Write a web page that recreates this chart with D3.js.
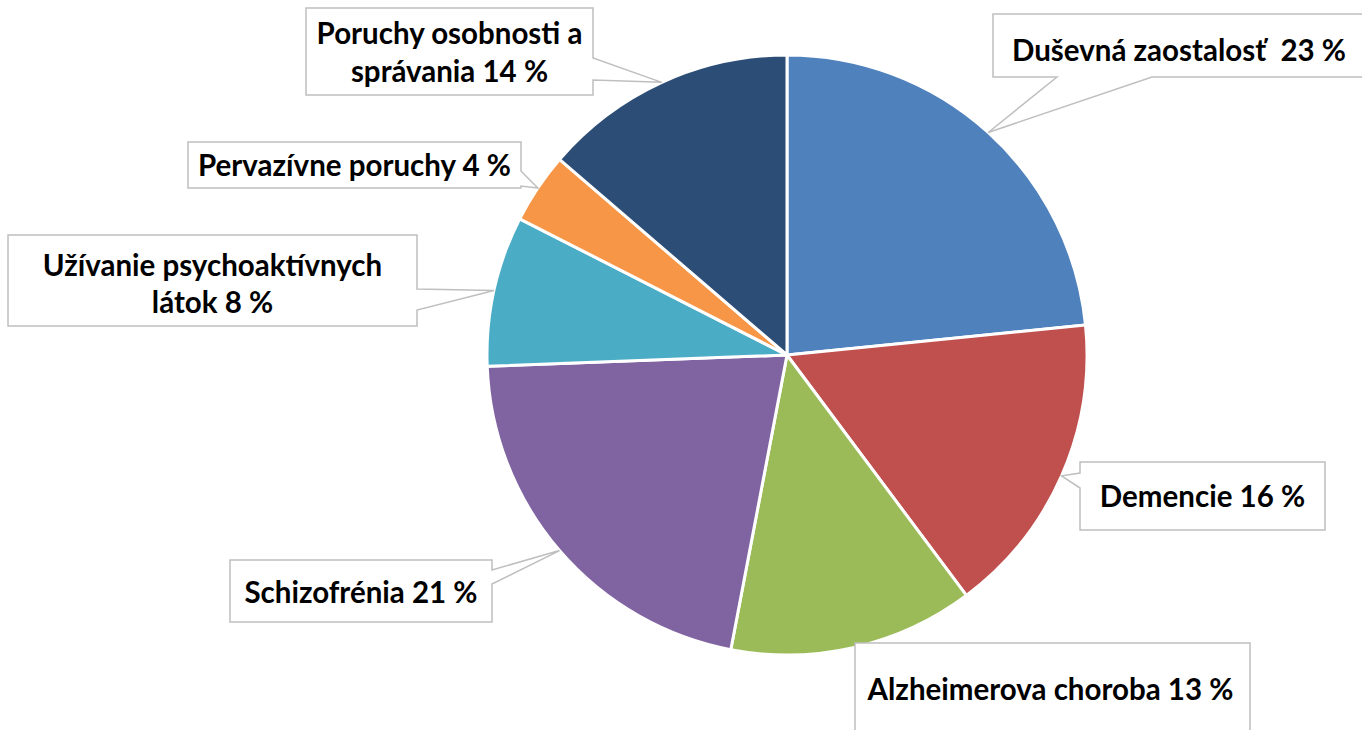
<!DOCTYPE html>
<html>
<head>
<meta charset="utf-8">
<script src="https://cdn.jsdelivr.net/npm/d3@7"></script>
<style>
  body { margin: 0; background: #fff; }
  svg text { font-family: Lato, "Open Sans", sans-serif; font-weight: bold; fill: #000; }
</style>
</head>
<body>
<svg width="1362" height="730"></svg>
<script>
// data, clockwise from 12 o'clock
var categories = ["Duševná zaostalosť ", "Demencie", "Alzheimerova choroba", "Schizofrénia",
                  "Užívanie psychoaktívnych látok", "Pervazívne poruchy", "Poruchy osobnosti a správania"];
var values = [23.4, 16.4, 13.2, 21.4, 8.1, 3.8, 13.7];
var colors = ["#4F81BD", "#C0504D", "#9BBB59", "#8064A2", "#4BACC6", "#F79646", "#2C4D75"];

// label text lines (the % is appended from the value)
var labelLines = [
  ["Duševná zaostalosť  "],
  ["Demencie "],
  ["Alzheimerova choroba "],
  ["Schizofrénia "],
  ["Užívanie psychoaktívnych", "látok "],
  ["Pervazívne poruchy "],
  ["Poruchy osobnosti a", "správania "]
];

// callout boxes: x, y, w, h, side of pointer, pointer base (two coords along that side), text baselines
var boxes = [
  {x: 993, y: 14, w: 372, h: 63, side: "bottom", p: [1057, 1152], base: [61], dx: 0},
  {x: 1080, y: 462, w: 245, h: 68, side: "left", p: [473, 488], base: [507], dx: 0},
  {x: 855, y: 643, w: 395, h: 95, side: null, p: [], base: [700], dx: -2},
  {x: 230, y: 560, w: 262, h: 62, side: "right", p: [570, 584], base: [603], dx: 0},
  {x: 8, y: 235, w: 409, h: 91, side: "right", p: [289, 310], base: [276, 313], dx: 0},
  {x: 188, y: 142, w: 333, h: 46, side: "right", p: [171, 186], base: [176], dx: 0},
  {x: 306, y: 8, w: 287, h: 87, side: "right", p: [58, 80], base: [44, 82], dx: 0}
];

var svg = d3.select("svg");
var cx = 787, cy = 355, r = 300;

var pie = d3.pie().sort(null).value(function(d) { return d; });
var arcs = pie(values);

var arc = d3.arc().innerRadius(0).outerRadius(r);
var edge = d3.arc().innerRadius(r).outerRadius(r);

var g = svg.append("g").attr("transform", "translate(" + cx + "," + cy + ")");

g.selectAll("path.slice")
  .data(arcs)
  .enter().append("path")
    .attr("class", "slice")
    .attr("d", arc)
    .attr("fill", function(d, i) { return colors[i]; })
    .attr("stroke", "#fff")
    .attr("stroke-width", 3)
    .attr("stroke-linejoin", "round");

// callout outline: rectangle with a pointer going to the slice edge
function callout(b, tip) {
  var x0 = b.x, y0 = b.y, x1 = b.x + b.w, y1 = b.y + b.h;
  var t = tip[0] + "," + tip[1];
  var s = "M" + x0 + "," + y0 + "L" + x1 + "," + y0;
  if (b.side == "right") s += "L" + x1 + "," + b.p[0] + "L" + t + "L" + x1 + "," + b.p[1];
  s += "L" + x1 + "," + y1;
  if (b.side == "bottom") s += "L" + b.p[1] + "," + y1 + "L" + t + "L" + b.p[0] + "," + y1;
  s += "L" + x0 + "," + y1;
  if (b.side == "left") s += "L" + x0 + "," + b.p[1] + "L" + t + "L" + x0 + "," + b.p[0];
  return s + "Z";
}

var labels = svg.selectAll("g.label")
  .data(arcs)
  .enter().append("g")
    .attr("class", "label");

labels.append("path")
  .attr("d", function(d, i) {
    var c = edge.centroid(d);
    return callout(boxes[i], [cx + c[0], cy + c[1]]);
  })
  .attr("fill", "#fff")
  .attr("stroke", "#BFBFBF")
  .attr("stroke-width", 1.5);

labels.each(function(d, i) {
  var b = boxes[i];
  var lines = labelLines[i].slice();
  lines[lines.length - 1] += Math.round(d.data) + " %";
  var sel = d3.select(this);
  lines.forEach(function(t, k) {
    sel.append("text")
      .attr("x", b.x + b.w / 2 + b.dx)
      .attr("y", b.base[k])
      .attr("text-anchor", "middle")
      .attr("font-size", 29.5)
      .attr("xml:space", "preserve")
      .text(t);
  });
});
</script>
</body>
</html>
